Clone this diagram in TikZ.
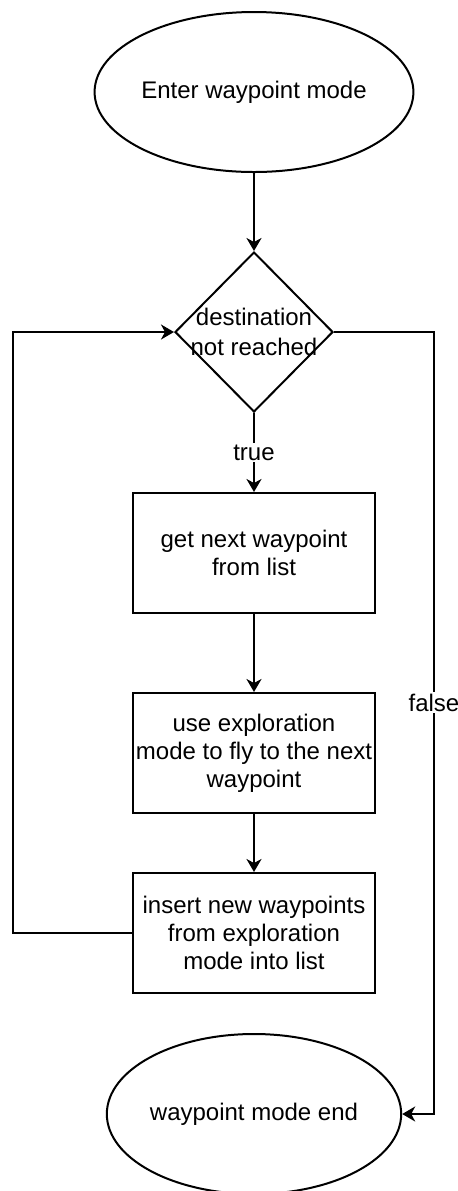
\documentclass[tikz,border=0pt]{standalone}
\usepackage{fontspec}
\setmainfont{Liberation Sans}
\usetikzlibrary{shapes.geometric,arrows.meta}
\begin{document}
\begin{tikzpicture}[x=0.5pt,y=-0.5pt,
  base/.style={draw=black,line width=1pt,inner sep=0pt,font=\fontsize{12pt}{14pt}\selectfont,align=center},
  term/.style={base,ellipse,minimum width=121pt,minimum height=80pt},
  proc/.style={base,rectangle,minimum width=121pt,minimum height=60pt},
  deci/.style={base,diamond,minimum width=79pt,minimum height=80pt},
  conn/.style={line width=1pt,-{Stealth[length=6.5pt,width=7.5pt,inset=2pt]}},
  lab/.style={fill=white,inner sep=1pt,font=\fontsize{12pt}{14pt}\selectfont}]
\useasboundingbox (0,0) rectangle (457,1191);
\node[term] (start) at (254,92) {Enter waypoint mode};
\node[deci,label={[align=center,font=\fontsize{12pt}{15pt}\selectfont]center:destination\\not reached}] (dec) at (254,332) {};
\node[proc] (b1) at (254,553) {get next waypoint\\from list};
\node[proc] (b2) at (254,753) {use exploration\\mode to fly to the next\\waypoint};
\node[proc] (b3) at (254,933) {insert new waypoints\\from exploration\\mode into list};
\node[term] (stop) at (254,1114) {waypoint mode end};
\coordinate (L) at (13,332);
\coordinate (R) at (434,332);
\draw[conn] (start) -- (dec);
\draw[conn] (dec.south) -- node[lab,pos=0.5] {true} (b1.north);
\draw[conn] (b1) -- (b2);
\draw[conn] (b2) -- (b3);
\draw[conn] (b3.west) -| (L) -- (dec.west);
\draw[conn] (dec.east) -- (R) |- node[lab,pos=0.237] {false} (stop.east);
\end{tikzpicture}
\end{document}
